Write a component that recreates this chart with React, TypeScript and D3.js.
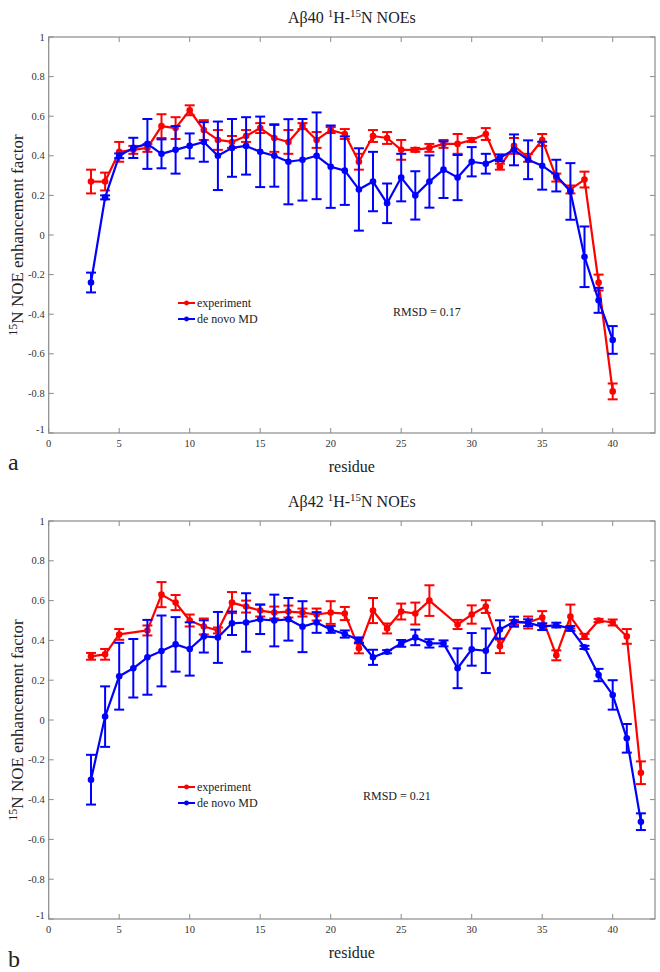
import React from "react";
import * as d3 from "d3";

// ---------- data ----------
const residues40 = [3,4,5,6,7,8,9,10,11,12,13,14,15,16,17,18,19,20,21,22,23,24,25,26,27,28,29,30,31,32,33,34,35,36,37,38,39,40];
const exp40 = [0.27,0.27,0.42,0.43,0.44,0.55,0.54,0.63,0.53,0.48,0.47,0.5,0.54,0.49,0.47,0.55,0.48,0.53,0.51,0.37,0.5,0.49,0.43,0.43,0.44,0.46,0.46,0.48,0.51,0.345,0.45,0.39,0.48,0.29,0.23,0.28,-0.24,-0.79];
const exp40Err = [0.06,0.045,0.05,0.02,0.02,0.06,0.055,0.025,0.05,0.05,0.03,0.03,0.025,0.07,0.06,0.015,0.04,0.015,0.025,0.04,0.03,0.03,0.05,0.01,0.02,0.02,0.05,0.01,0.03,0.015,0.04,0.02,0.03,0.02,0.02,0.04,0.04,0.04];
const md40 = [-0.24,0.19,0.4,0.44,0.46,0.41,0.43,0.45,0.47,0.4,0.44,0.45,0.42,0.4,0.37,0.38,0.4,0.345,0.325,0.23,0.27,0.16,0.29,0.2,0.27,0.33,0.29,0.37,0.36,0.39,0.43,0.38,0.35,0.3,0.22,-0.11,-0.33,-0.53];
const md40Err = [0.05,0.01,0.012,0.051,0.126,0.073,0.12,0.063,0.1,0.173,0.146,0.145,0.178,0.156,0.215,0.206,0.219,0.208,0.173,0.208,0.15,0.1,0.12,0.122,0.132,0.143,0.114,0.074,0.05,0.017,0.078,0.098,0.121,0.08,0.143,0.153,0.063,0.07];

const residues42 = [3,4,5,6,7,8,9,10,11,12,13,14,15,16,17,18,19,20,21,22,23,24,25,26,27,28,29,30,31,32,33,34,35,36,37,38,39,40,41,42];
const exp42: (number | null)[] = [0.32,0.33,0.43,null,0.45,0.63,0.59,0.5,0.47,0.45,0.59,0.57,0.55,0.54,0.545,0.54,0.53,0.54,0.535,0.36,0.55,0.46,0.545,0.535,0.6,null,0.48,0.53,0.57,0.37,0.49,0.49,0.515,0.325,0.52,0.42,0.5,0.49,0.42,-0.265];
const exp42Err = [0.017,0.027,0.027,0,0.025,0.063,0.038,0.03,0.04,0.015,0.053,0.03,0.03,0.03,0.03,0.02,0.03,0.057,0.033,0.025,0.063,0.025,0.04,0.055,0.077,0,0.023,0.046,0.032,0.034,0.012,0.03,0.032,0.025,0.06,0.013,0.008,0.015,0.037,0.057];
const md42 = [-0.3,0.017,0.22,0.26,0.315,0.347,0.38,0.357,0.42,0.415,0.486,0.49,0.506,0.5,0.506,0.469,0.49,0.455,0.432,0.402,0.315,0.343,0.385,0.415,0.385,0.385,0.26,0.355,0.348,0.455,0.494,0.489,0.469,0.477,0.46,0.365,0.226,0.126,-0.092,-0.511];
const md42Err = [0.125,0.152,0.168,0.147,0.188,0.178,0.137,0.134,0.081,0.128,0.059,0.147,0.074,0.13,0.107,0.128,0.052,0.017,0.018,0.013,0.038,0.008,0.017,0.039,0.021,0.015,0.1,0.082,0.112,0.046,0.025,0.017,0.017,0.012,0.012,0.008,0.031,0.074,0.072,0.042];

const xTicks = [0,5,10,15,20,25,30,35,40];
const yTicks = [-1,-0.8,-0.6,-0.4,-0.2,0,0.2,0.4,0.6,0.8,1];
const seriesNames = ["experiment", "de novo MD"];
const seriesColors = ["#ff0000", "#0000ff"];

const FONT = '"Liberation Serif", "DejaVu Serif", serif';
const AXIS = "#8a8a8a";

type PanelProps = {
  top: number;
  bottom: number;
  peptide: string;
  residues: number[];
  exp: (number | null)[];
  expErr: number[];
  md: number[];
  mdErr: number[];
  rmsd: string;
  rmsdX: number;
  letter: string;
};

const X0 = 48.7;
const X1 = 655;

function Series({ residues, vals, errs, color, x, y }: any) {
  const pts = residues
    .map((r: number, i: number) => ({ r, v: vals[i], e: errs[i] }))
    .filter((d: any) => d.v !== null && d.v !== undefined);
  const line = d3
    .line<any>()
    .x((d) => x(d.r))
    .y((d) => y(d.v));
  const cap = 5;
  return (
    <g>
      <path d={line(pts) || ""} fill="none" stroke={color} strokeWidth={2.2} strokeLinejoin="round" />
      {pts.map((d: any, i: number) =>
        d.e > 0 ? (
          <g key={"e" + i} stroke={color} strokeWidth={2}>
            <line x1={x(d.r)} x2={x(d.r)} y1={y(d.v + d.e)} y2={y(d.v - d.e)} />
            <line x1={x(d.r) - cap} x2={x(d.r) + cap} y1={y(d.v + d.e)} y2={y(d.v + d.e)} />
            <line x1={x(d.r) - cap} x2={x(d.r) + cap} y1={y(d.v - d.e)} y2={y(d.v - d.e)} />
          </g>
        ) : null
      )}
      {pts.map((d: any, i: number) => (
        <circle key={"c" + i} cx={x(d.r)} cy={y(d.v)} r={3.3} fill={color} />
      ))}
    </g>
  );
}

function Panel(p: PanelProps) {
  const x = d3.scaleLinear().domain([0, 43]).range([X0, X1]);
  const y = d3.scaleLinear().domain([-1, 1]).range([p.bottom, p.top]);
  const cx = (X0 + X1) / 2;
  const cy = (p.top + p.bottom) / 2;
  const tl = 5;
  const legY = p.top + 266;
  return (
    <g style={{ fontFamily: FONT }}>
      {/* title */}
      <text x={cx} y={p.top - 14} textAnchor="middle" fontSize={16} fill="#222">
        {"A\u03b2" + p.peptide + " "}
        <tspan fontSize={11} dy={-6}>1</tspan>
        <tspan dy={6}>H-</tspan>
        <tspan fontSize={11} dy={-6}>15</tspan>
        <tspan dy={6}>N NOEs</tspan>
      </text>
      {/* ticks */}
      {xTicks.map((t) => (
        <g key={"xt" + t} stroke={AXIS} strokeWidth={1}>
          <line x1={x(t)} x2={x(t)} y1={p.bottom} y2={p.bottom - tl} />
          <line x1={x(t)} x2={x(t)} y1={p.top} y2={p.top + tl} />
        </g>
      ))}
      {yTicks.map((t) => (
        <g key={"yt" + t} stroke={AXIS} strokeWidth={1}>
          <line x1={X0} x2={X0 + tl} y1={y(t)} y2={y(t)} />
          <line x1={X1} x2={X1 - tl} y1={y(t)} y2={y(t)} />
        </g>
      ))}
      <rect x={X0} y={p.top} width={X1 - X0} height={p.bottom - p.top} fill="none" stroke={AXIS} strokeWidth={1.2} />
      {xTicks.map((t) => (
        <text key={"xl" + t} x={x(t)} y={p.bottom + 14} textAnchor="middle" fontSize={10.5} fill="#333">
          {String(t)}
        </text>
      ))}
      {yTicks.map((t) => (
        <text key={"yl" + t} x={X0 - 4} y={y(t) + (t === -1 ? 0 : 3.5)} textAnchor="end" fontSize={10.5} fill="#333">
          {String(Math.round(t * 10) / 10)}
        </text>
      ))}
      {/* axis labels */}
      <text x={cx} y={p.bottom + 39} textAnchor="middle" fontSize={16} fill="#222">
        residue
      </text>
      <text x={8} y={p.bottom + (p.letter === "a" ? 37 : 48)} fontSize={24} fill="#222">
        {p.letter}
      </text>
      <text transform={`translate(23,${cy}) rotate(-90)`} textAnchor="middle" fontSize={17} fill="#222">
        <tspan fontSize={12} dy={-6}>15</tspan>
        <tspan dy={6}>N NOE enhancement factor</tspan>
      </text>
      {/* data */}
      <Series residues={p.residues} vals={p.exp} errs={p.expErr} color={seriesColors[0]} x={x} y={y} />
      <Series residues={p.residues} vals={p.md} errs={p.mdErr} color={seriesColors[1]} x={x} y={y} />
      {/* legend */}
      {seriesNames.map((n, i) => (
        <g key={n}>
          <line x1={178} x2={195} y1={legY + i * 16} y2={legY + i * 16} stroke={seriesColors[i]} strokeWidth={2} />
          <circle cx={186.5} cy={legY + i * 16} r={2.4} fill={seriesColors[i]} />
          <text x={197} y={legY + i * 16 + 4} fontSize={12} fill="#222">
            {n}
          </text>
        </g>
      ))}
      <text x={p.rmsdX} y={legY + 13} fontSize={12} fill="#222">
        {p.rmsd}
      </text>
    </g>
  );
}

export default function App() {
  return (
    <svg
      width={660}
      height={972}
      fontFamily={FONT}
      style={{ position: "absolute", left: 0, top: 0, background: "#fff", fontFamily: FONT }}
    >
      <rect width={660} height={972} fill="#fff" />
      <Panel
        top={37}
        bottom={433}
        peptide="40"
        residues={residues40}
        exp={exp40}
        expErr={exp40Err}
        md={md40}
        mdErr={md40Err}
        rmsd="RMSD = 0.17"
        rmsdX={393}
        letter="a"
      />
      <Panel
        top={521}
        bottom={919}
        peptide="42"
        residues={residues42}
        exp={exp42}
        expErr={exp42Err}
        md={md42}
        mdErr={md42Err}
        rmsd="RMSD = 0.21"
        rmsdX={363}
        letter="b"
      />
    </svg>
  );
}
